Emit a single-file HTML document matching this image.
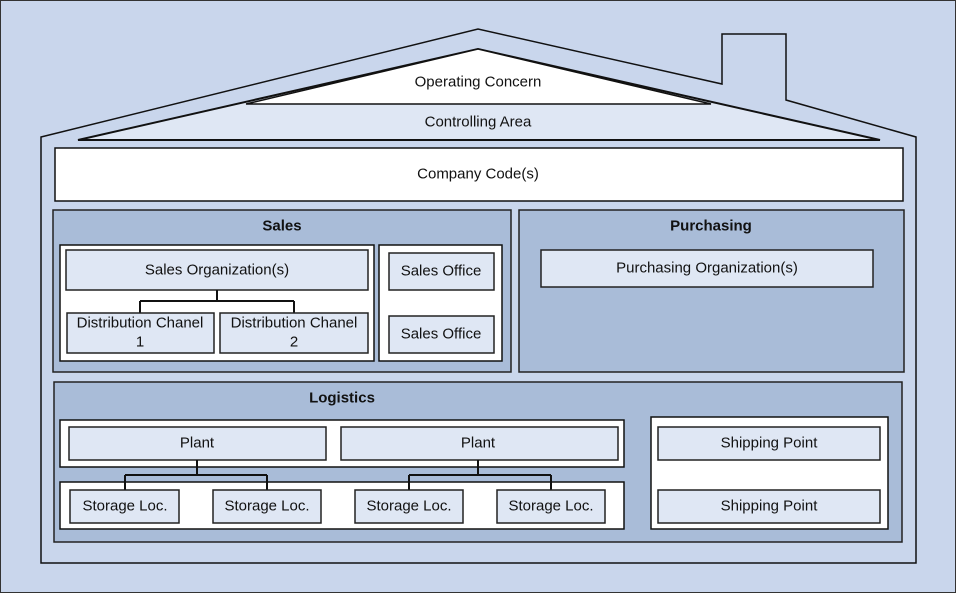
<!DOCTYPE html>
<html><head><meta charset="utf-8"><style>
html,body{margin:0;padding:0;background:#c9d6ec}
svg{display:block}
text{font-family:"Liberation Sans",sans-serif;font-size:15px;fill:#111;text-anchor:middle;dominant-baseline:central}
.b{font-weight:bold}
</style></head><body>
<svg width="956" height="593" viewBox="0 0 956 593" xmlns="http://www.w3.org/2000/svg">
<rect x="0.5" y="0.5" width="955" height="592" fill="#c9d6ec" stroke="#333" stroke-width="1"/>
<!-- house outline -->
<path d="M41,137 L478,29 L722,84 L722,34 L786,34 L786,100 L916,137 L916,563 L41,563 Z" fill="#c9d6ec" stroke="#111" stroke-width="1.5"/>
<!-- roof triangle -->
<path d="M78,140 L478,49 L880,140 Z" fill="#dfe7f4" stroke="#111" stroke-width="2"/>
<path d="M246,104 L478,49 L711,104 Z" fill="#fff" stroke="#111" stroke-width="1.5"/>
<text x="478" y="82">Operating Concern</text>
<text x="478" y="122">Controlling Area</text>
<!-- company code -->
<rect x="55" y="148" width="848" height="53" fill="#fff" stroke="#111" stroke-width="1.5"/>
<text x="478" y="174">Company Code(s)</text>
<!-- Sales -->
<rect x="53" y="210" width="458" height="162" fill="#a9bcd8" stroke="#222" stroke-width="1.5"/>
<text class="b" x="282" y="226">Sales</text>
<rect x="60" y="245" width="314" height="116" fill="#fff" stroke="#111" stroke-width="1.5"/>
<rect x="66" y="250" width="302" height="40" fill="#dfe7f4" stroke="#222" stroke-width="1.5"/>
<text x="217" y="270">Sales Organization(s)</text>
<path d="M217,290 V301 M140,301 H294 M140,301 V313 M294,301 V313" stroke="#111" stroke-width="2" fill="none"/>
<rect x="67" y="313" width="147" height="40" fill="#dfe7f4" stroke="#222" stroke-width="1.5"/>
<text x="140" y="323">Distribution Chanel</text><text x="140" y="342">1</text>
<rect x="220" y="313" width="148" height="40" fill="#dfe7f4" stroke="#222" stroke-width="1.5"/>
<text x="294" y="323">Distribution Chanel</text><text x="294" y="342">2</text>
<rect x="379" y="245" width="123" height="116" fill="#fff" stroke="#111" stroke-width="1.5"/>
<rect x="389" y="253" width="105" height="37" fill="#dfe7f4" stroke="#222" stroke-width="1.5"/>
<text x="441" y="271">Sales Office</text>
<rect x="389" y="316" width="105" height="37" fill="#dfe7f4" stroke="#222" stroke-width="1.5"/>
<text x="441" y="334">Sales Office</text>
<!-- Purchasing -->
<rect x="519" y="210" width="385" height="162" fill="#a9bcd8" stroke="#222" stroke-width="1.5"/>
<text class="b" x="711" y="226">Purchasing</text>
<rect x="541" y="250" width="332" height="37" fill="#dfe7f4" stroke="#222" stroke-width="1.5"/>
<text x="707" y="268">Purchasing Organization(s)</text>
<!-- Logistics -->
<rect x="54" y="382" width="848" height="160" fill="#a9bcd8" stroke="#222" stroke-width="1.5"/>
<text class="b" x="342" y="398">Logistics</text>
<rect x="60" y="420" width="564" height="47" fill="#fff" stroke="#111" stroke-width="1.5"/>
<rect x="69" y="427" width="257" height="33" fill="#dfe7f4" stroke="#222" stroke-width="1.5"/>
<text x="197" y="443">Plant</text>
<rect x="341" y="427" width="277" height="33" fill="#dfe7f4" stroke="#222" stroke-width="1.5"/>
<text x="478" y="443">Plant</text>
<rect x="60" y="482" width="564" height="47" fill="#fff" stroke="#111" stroke-width="1.5"/>
<path d="M197,460 V475 M125,475 H267 M125,475 V490 M267,475 V490 M478,460 V475 M409,475 H551 M409,475 V490 M551,475 V490" stroke="#111" stroke-width="2" fill="none"/>
<rect x="70" y="490" width="109" height="33" fill="#dfe7f4" stroke="#222" stroke-width="1.5"/>
<text x="125" y="506">Storage Loc.</text>
<rect x="213" y="490" width="108" height="33" fill="#dfe7f4" stroke="#222" stroke-width="1.5"/>
<text x="267" y="506">Storage Loc.</text>
<rect x="355" y="490" width="108" height="33" fill="#dfe7f4" stroke="#222" stroke-width="1.5"/>
<text x="409" y="506">Storage Loc.</text>
<rect x="497" y="490" width="108" height="33" fill="#dfe7f4" stroke="#222" stroke-width="1.5"/>
<text x="551" y="506">Storage Loc.</text>
<rect x="651" y="417" width="237" height="112" fill="#fff" stroke="#111" stroke-width="1.5"/>
<rect x="658" y="427" width="222" height="33" fill="#dfe7f4" stroke="#222" stroke-width="1.5"/>
<text x="769" y="443">Shipping Point</text>
<rect x="658" y="490" width="222" height="33" fill="#dfe7f4" stroke="#222" stroke-width="1.5"/>
<text x="769" y="506">Shipping Point</text>
</svg>
</body></html>
